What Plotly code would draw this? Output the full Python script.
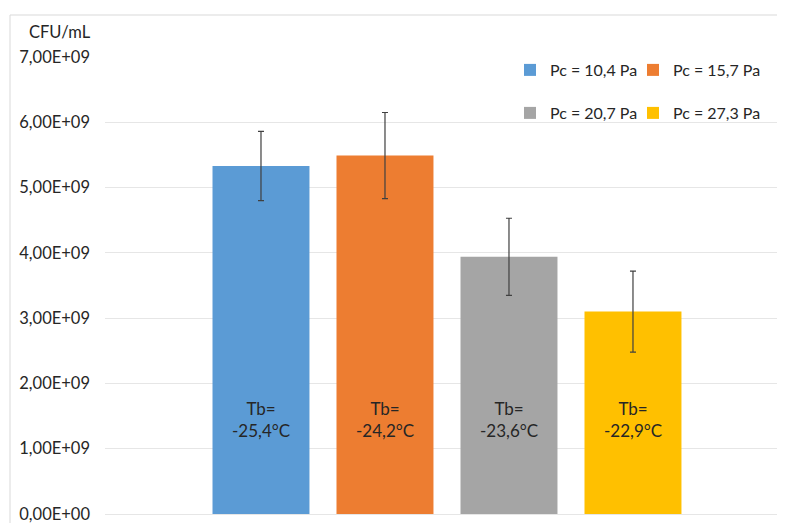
import plotly.graph_objects as go

# ---- data ----
series_names = ["Pc = 10,4 Pa", "Pc = 15,7 Pa", "Pc = 20,7 Pa", "Pc = 27,3 Pa"]
categories = ["A", "B", "C", "D"]
cfu_values = [5.33e9, 5.49e9, 3.94e9, 3.10e9]
cfu_errors = [0.53e9, 0.66e9, 0.59e9, 0.62e9]
tb_labels = ["Tb=<br>-25,4°C", "Tb=<br>-24,2°C", "Tb=<br>-23,6°C", "Tb=<br>-22,9°C"]
tick_values = [0, 1e9, 2e9, 3e9, 4e9, 5e9, 6e9, 7e9]
tick_labels = ["0,00E+00", "1,00E+09", "2,00E+09", "3,00E+09",
               "4,00E+09", "5,00E+09", "6,00E+09", "7,00E+09"]
colors = ["#5B9BD5", "#ED7D31", "#A5A5A5", "#FFC000"]
legend_ids = ["legend", "legend2", "legend3", "legend4"]
LABEL_Y = 1.44e9

FONT = "Lato, 'Open Sans', sans-serif"
TXT = "#262626"

# figure geometry (page has an 8px body margin)
W, H = 777, 515
L, R, T, B = 97, 0, 49, 9
PW, PH = W - L - R, H - T - B


def px(xf):
    return (xf - L) / PW


def py(yf):
    return (H - B - yf) / PH


fig = go.Figure()
for name, cat, val, err, col, lg in zip(series_names, categories, cfu_values,
                                        cfu_errors, colors, legend_ids):
    fig.add_trace(go.Bar(
        x=[cat], y=[val], name=name, marker_color=col,
        marker_line_width=0, width=0.782,
        error_y=dict(type="data", array=[err], visible=True,
                     color="#404040", thickness=1.2, width=3),
        legend=lg,
    ))

for cat, lab in zip(categories, tb_labels):
    fig.add_annotation(x=cat, y=LABEL_Y, text=lab, showarrow=False,
                       font=dict(family=FONT, size=17, color=TXT),
                       xref="x", yref="y")

fig.add_annotation(text="CFU/mL", xref="paper", yref="paper",
                   x=px(19), y=py(24),
                   xanchor="left", yanchor="middle", showarrow=False,
                   font=dict(family=FONT, size=16.5, color=TXT))

# chart border
fig.add_shape(type="rect", xref="paper", yref="paper",
              x0=px(2), x1=1.3, y0=-0.2, y1=py(7),
              line=dict(color="#D9D9D9", width=1), layer="below")

leg_common = dict(orientation="h", xanchor="left", yanchor="middle",
                  font=dict(family=FONT, size=16, color=TXT),
                  bgcolor="rgba(0,0,0,0)")
leg_pos = {"legend": (502, 62), "legend2": (625, 62),
           "legend3": (502, 105), "legend4": (625, 105)}
legends = {k: dict(leg_common, x=px(v[0]), y=py(v[1])) for k, v in leg_pos.items()}

fig.update_layout(
    width=W, height=H,
    margin=dict(l=L, r=R, t=T, b=B, autoexpand=False),
    paper_bgcolor="white", plot_bgcolor="white",
    barmode="overlay",
    showlegend=True,
    font=dict(family=FONT, color=TXT),
    xaxis=dict(range=[-1.258, 4.226], showticklabels=False, showgrid=False,
               zeroline=False, showline=False, ticks=""),
    yaxis=dict(range=[0, 7e9], tickvals=tick_values, ticktext=tick_labels,
               showgrid=True, gridcolor="#E6E6E6", gridwidth=1,
               zeroline=True, zerolinecolor="#E6E6E6", zerolinewidth=1,
               showline=False, ticks="", ticklabelstandoff=14,
               ticklabeloverflow="allow",
               tickfont=dict(family=FONT, size=16.5, color=TXT)),
    **legends,
)

fig.write_html("out.html")
